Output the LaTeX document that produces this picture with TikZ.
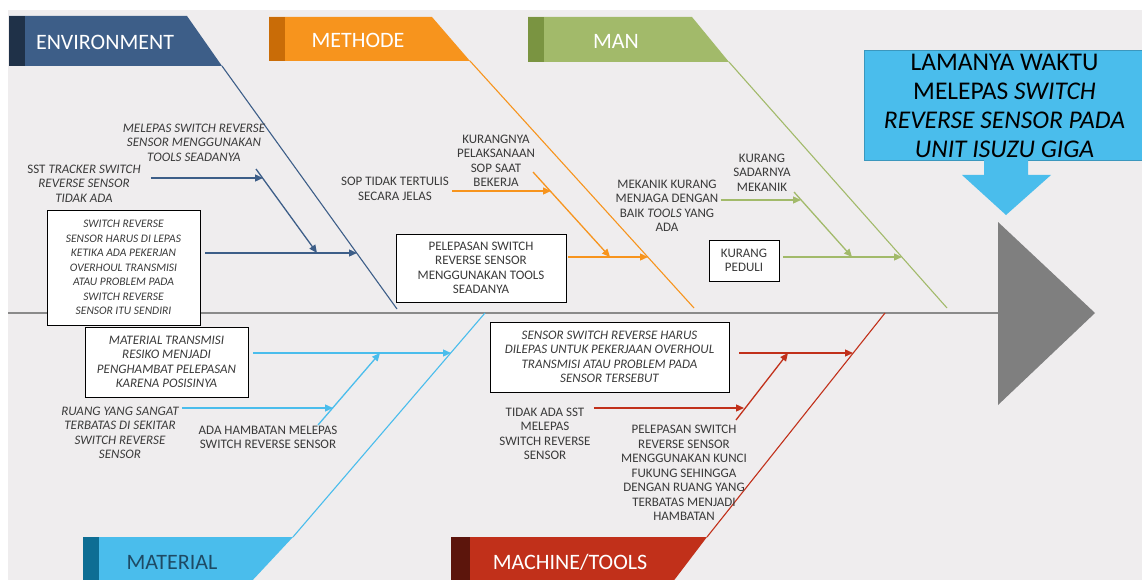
\documentclass[tikz,border=0pt]{standalone}
\usepackage{fontspec}
\setmainfont{Carlito}
\usetikzlibrary{positioning,arrows.meta}

\definecolor{bggray}{HTML}{EFEDEE}
\definecolor{txtgray}{HTML}{3A3A3A}
\definecolor{spinegray}{HTML}{8A8A8A}
\definecolor{headgray}{HTML}{7F7F7F}
\definecolor{envcol}{HTML}{3D5E88}
\definecolor{envdark}{HTML}{1F3148}
\definecolor{methcol}{HTML}{F7941D}
\definecolor{methdark}{HTML}{C96C07}
\definecolor{mancol}{HTML}{A2BA6A}
\definecolor{mandark}{HTML}{7A9441}
\definecolor{matcol}{HTML}{4ABDEC}
\definecolor{matdark}{HTML}{0E6E94}
\definecolor{mattxt}{HTML}{1E4A64}
\definecolor{maccol}{HTML}{C1301A}
\definecolor{macdark}{HTML}{5C150C}

\begin{document}
\begin{tikzpicture}[
		x=1pt, y=-1pt,
		>={Triangle[length=8pt,width=7pt]},
		bone/.style = {line width=1.1pt},
		twig/.style = {line width=1.3pt, ->},
		cause/.style = {font=\fontsize{13}{14.5}\selectfont, text=txtgray, align=center, inner sep=1pt},
		causeit/.style = {cause, font=\fontsize{13}{14.5}\selectfont\itshape},
		causebox/.style = {draw=black, fill=white, line width=0.8pt, inner sep=2pt},
		headtext/.style = {font=\fontsize{22}{26}\selectfont, text=white}
	]
	\useasboundingbox (0,0) rectangle (1142,580);
	\fill[bggray] (8,10) rectangle (1142,580);
	
	% Spine and head.
	\coordinate (tail) at (8,313);
	\coordinate (head) at (998,313);
	\draw[spinegray, line width=2.6pt] (tail) -- (head);
	\fill[headgray] (998,222) -- (1095,313) -- (998,405) -- cycle;
	\node[fill=matcol, draw=matcol!80!black, line width=0.6pt, minimum width=281pt, minimum height=105pt,
		align=center, font=\fontsize{25.5}{29}\selectfont, text=black] (problem) at (1004.5,105.5)
		{LAMANYA WAKTU\\MELEPAS \textit{SWITCH}\\\textit{REVERSE SENSOR PADA}\\\textit{UNIT ISUZU GIGA}};
	\fill[matcol] (984,158) -- (1028,158) -- (1028,175) -- (1051,175) -- (1006,215) -- (962,175) -- (984,175) -- cycle;
	
	% Headers.
	\fill[envcol] (9,16) -- (187,16) -- (222,66) -- (9,66) -- cycle;
	\fill[envdark] (9,16) rectangle (25,66);
	\node[headtext] (envHead) at (105,42) {ENVIRONMENT};
	\fill[methcol] (269,17) -- (432,17) -- (470,61) -- (269,61) -- cycle;
	\fill[methdark] (269,17) rectangle (285,61);
	\node[headtext] (methHead) at (358,40) {METHODE};
	\fill[mancol] (528,17) -- (692,17) -- (729,62) -- (528,62) -- cycle;
	\fill[mandark] (528,17) rectangle (544,62);
	\node[headtext] (manHead) at (616,41) {MAN};
	\fill[matcol] (83,537) -- (293,537) -- (250,583) -- (83,583) -- cycle;
	\fill[matdark] (83,537) rectangle (99,583);
	\node[headtext, text=mattxt] (matHead) at (172,562) {MATERIAL};
	\fill[maccol] (451,537) -- (707,537) -- (672,583) -- (451,583) -- cycle;
	\fill[macdark] (451,537) rectangle (470,583);
	\node[headtext] (macHead) at (570,562) {MACHINE/TOOLS};
	
	% Environment.
	\coordinate (envTop) at (222,66);
	\coordinate (envEnd) at (397,309);
	\coordinate (envTwig) at (256,169);
	\coordinate (envJ1) at (263,178);
	\coordinate (envJ2) at (317,253);
	\coordinate (envJ3) at (357,253);
	\draw[bone, envcol] (envTop) -- (envEnd);
	\node[causeit] (envTools) at (194,142.5) {MELEPAS SWITCH REVERSE\\SENSOR MENGGUNAKAN\\TOOLS SEADANYA};
	\node[causeit] (envSst) at (84,183.5) {\upshape SST \itshape TRACKER SWITCH\\REVERSE SENSOR\\TIDAK ADA};
	\node[causeit, causebox, font=\fontsize{11.5}{14.5}\selectfont\itshape, minimum width=153pt, minimum height=115pt] (envBox) at (123.5,267.5)
		{SWITCH REVERSE\\SENSOR HARUS DI LEPAS\\KETIKA ADA PEKERJAN\\OVERHOUL TRANSMISI\\ATAU PROBLEM PADA\\SWITCH REVERSE\\SENSOR ITU SENDIRI};
	\draw[twig, envcol] (envTwig) -- (envJ2);
	\draw[twig, envcol] ([xshift=9pt]envSst.east |- envJ1) -- (envJ1);
	\draw[twig, envcol] ([xshift=5pt]envBox.east |- envJ3) -- (envJ3);
	
	% Methode.
	\coordinate (methTop) at (470,61);
	\coordinate (methEnd) at (694,308);
	\coordinate (methTwig) at (533,172);
	\coordinate (methJ1) at (551,191);
	\coordinate (methJ2) at (610,257);
	\coordinate (methJ3) at (648,257);
	\draw[bone, methcol] (methTop) -- (methEnd);
	\node[cause] (methSop) at (395,189) {SOP TIDAK TERTULIS\\SECARA JELAS};
	\node[cause] (methKurang) at (496,161) {KURANGNYA\\PELAKSANAAN\\SOP SAAT\\BEKERJA};
	\node[cause, causebox, minimum width=170pt, minimum height=68pt] (methBox) at (481,268)
		{PELEPASAN SWITCH\\REVERSE SENSOR\\MENGGUNAKAN TOOLS\\SEADANYA};
	\draw[twig, methcol] (methTwig) -- (methJ2);
	\draw[twig, methcol] ([xshift=2pt]methSop.east |- methJ1) -- (methJ1);
	\draw[twig, methcol] ([xshift=2pt]methBox.east |- methJ3) -- (methJ3);
	
	% Man.
	\coordinate (manTop) at (729,62);
	\coordinate (manEnd) at (947,308);
	\coordinate (manTwig) at (794,192);
	\coordinate (manJ1) at (801,200);
	\coordinate (manJ2) at (852,257);
	\coordinate (manJ3) at (902,257);
	\draw[bone, mancol] (manTop) -- (manEnd);
	\node[cause] (manMekanik) at (667,206) {MEKANIK KURANG\\MENJAGA DENGAN\\BAIK \textit{TOOLS} YANG\\ADA};
	\node[cause] (manSadar) at (762,172.5) {KURANG\\SADARNYA\\MEKANIK};
	\node[cause, causebox, minimum width=70pt, minimum height=41pt] (manBox) at (744,260.5) {KURANG\\PEDULI};
	\draw[twig, mancol] (manTwig) -- (manJ2);
	\draw[twig, mancol] ([xshift=1pt]manMekanik.east |- manJ1) -- (manJ1);
	\draw[twig, mancol] ([xshift=4pt]manBox.east |- manJ3) -- (manJ3);
	
	% Material.
	\coordinate (matBottom) at (293,537);
	\coordinate (matEnd) at (485,313);
	\coordinate (matTwig) at (318,425);
	\coordinate (matJ1) at (333,408);
	\coordinate (matJ2) at (380,353);
	\coordinate (matJ3) at (451,353);
	\draw[bone, matcol] (matBottom) -- (matEnd);
	\node[causeit, causebox, minimum width=163pt, minimum height=70pt] (matBox) at (166.5,362)
		{MATERIAL TRANSMISI\\RESIKO MENJADI\\PENGHAMBAT PELEPASAN\\KARENA POSISINYA};
	\node[causeit] (matRuang) at (120,433) {RUANG YANG SANGAT\\TERBATAS DI SEKITAR\\SWITCH REVERSE\\SENSOR};
	\node[cause] (matAda) at (268,437.5) {ADA HAMBATAN MELEPAS\\SWITCH REVERSE SENSOR};
	\draw[twig, matcol] (matTwig) -- (matJ2);
	\draw[twig, matcol] ([xshift=2pt]matRuang.east |- matJ1) -- (matJ1);
	\draw[twig, matcol] ([xshift=5pt]matBox.east |- matJ3) -- (matJ3);
	
	% Machine/tools.
	\coordinate (macBottom) at (707,537);
	\coordinate (macEnd) at (885,313);
	\coordinate (macTwig) at (736,420);
	\coordinate (macJ1) at (744,408);
	\coordinate (macJ2) at (788,353);
	\coordinate (macJ3) at (853,353);
	\draw[bone, maccol] (macBottom) -- (macEnd);
	\node[causeit, causebox, minimum width=239pt, minimum height=70pt] (macBox) at (609.5,357)
		{SENSOR SWITCH REVERSE HARUS\\DILEPAS UNTUK PEKERJAAN OVERHOUL\\TRANSMISI ATAU PROBLEM PADA\\SENSOR TERSEBUT};
	\node[cause] (macTidak) at (545,434) {TIDAK ADA SST\\MELEPAS\\SWITCH REVERSE\\SENSOR};
	\node[cause] (macKunci) at (684,473) {PELEPASAN SWITCH\\REVERSE SENSOR\\MENGGUNAKAN KUNCI\\FUKUNG SEHINGGA\\DENGAN RUANG YANG\\TERBATAS MENJADI\\HAMBATAN};
	\draw[twig, maccol] (macTwig) -- (macJ2);
	\draw[twig, maccol] ([xshift=2pt]macTidak.east |- macJ1) -- (macJ1);
	\draw[twig, maccol] ([xshift=10pt]macBox.east |- macJ3) -- (macJ3);
\end{tikzpicture}
\end{document}
